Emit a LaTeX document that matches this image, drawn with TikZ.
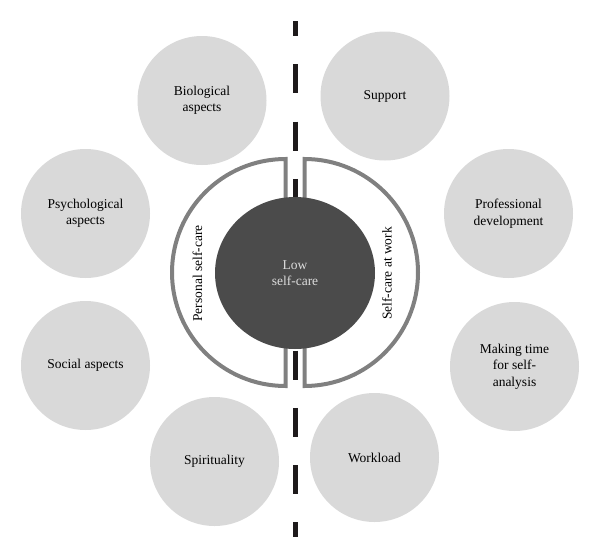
\documentclass[tikz,border=0pt]{standalone}
\usepackage{fontspec}
\setmainfont{Liberation Serif}
\usetikzlibrary{shapes.geometric}
\definecolor{bubgray}{HTML}{D9D9D9}
\definecolor{ringgray}{HTML}{808080}
\definecolor{coregray}{HTML}{4B4B4B}
\definecolor{coretext}{HTML}{DCDCDC}
\definecolor{dashcol}{HTML}{1E1A1B}
\begin{document}
\begin{tikzpicture}[x=1pt,y=-1pt,
  bub/.style={circle, fill=bubgray, minimum size=129pt, inner sep=0pt, align=center,
    font=\fontsize{13.5}{16.5}\selectfont, text=black},
  ringline/.style={draw=ringgray, line width=4pt, fill=white, line join=miter},
  divider/.style={draw=dashcol, line width=5pt, dash pattern=on 29pt off 28.25pt, dash phase=14pt},
  ringlabel/.style={rotate=90, font=\fontsize{13.5}{16.5}\selectfont, inner sep=0pt}]
\useasboundingbox (0,0) rectangle (600,557);
\fill[white] (0,0) rectangle (600,557);

% dashed divider
\coordinate (dtop) at (295,21);
\coordinate (dbot) at (295,537);
\draw[divider] (dtop) -- (dbot);

% half rings
\draw[ringline] (285.5,159) arc[start angle=90, end angle=270, radius=113.5pt] -- cycle;
\draw[ringline] (304.5,159) arc[start angle=90, end angle=-90, radius=113.5pt] -- cycle;

% core
\node[ellipse, fill=coregray, minimum width=160pt, minimum height=152pt, inner sep=0pt,
  align=center, text=coretext, font=\fontsize{13.5}{16.5}\selectfont] (low) at (295,273) {Low\\self-care};

\node[ringlabel] (pers) at (197.5,273.5) {Personal self-care};
\node[ringlabel] (work) at (387,273.5) {Self-care at work};

% bubbles left
\node[bub] (bio) at (202,100.5) {Biological\\aspects};
\node[bub] (psy) at (85.5,213.5) {Psychological\\aspects};
\node[bub] (soc) at (85.5,365.5) {Social aspects};
\node[bub] (spi) at (214.5,461.5) {Spirituality};
% bubbles right
\node[bub] (sup) at (385,96) {Support};
\node[bub] (pro) at (508.5,213.5) {Professional\\development};
\node[bub] (mak) at (514.5,366.5) {Making time\\for self-\\analysis};
\node[bub] (wor) at (374.5,457.5) {Workload};
\end{tikzpicture}
\end{document}
